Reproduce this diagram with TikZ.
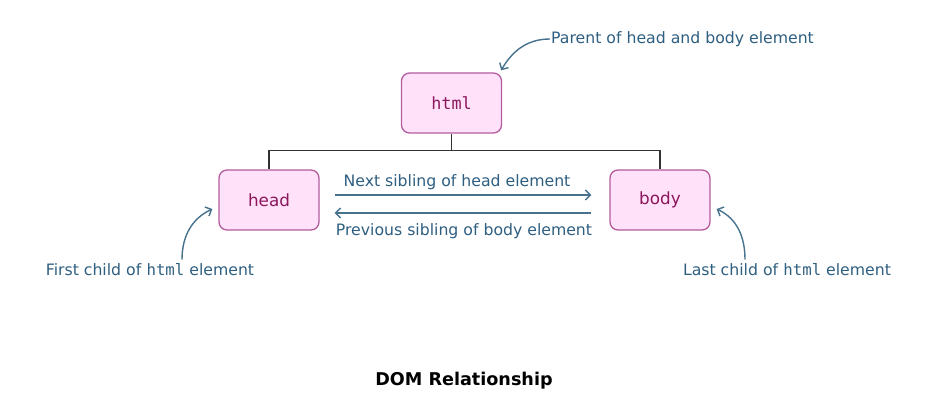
\documentclass[tikz,border=0pt]{standalone}
\usepackage{fontspec}
\setmainfont{DejaVu Sans}
\setmonofont{DejaVu Sans Mono}
\usetikzlibrary{arrows.meta}
\definecolor{boxfill}{RGB}{255,226,250}
\definecolor{boxline}{RGB}{178,92,160}
\definecolor{boxtext}{RGB}{138,22,92}
\definecolor{lbl}{RGB}{46,94,128}
\definecolor{arr}{RGB}{70,114,142}
\definecolor{tree}{RGB}{50,50,50}
\tikzset{
  elbox/.style={draw=boxline, fill=boxfill, line width=1.3pt, rounded corners=8pt,
    minimum width=100pt, minimum height=60pt, inner sep=0pt,
    text=boxtext, font=\fontsize{16.8}{18}\selectfont},
  lbltext/.style={text=lbl, inner sep=0pt, font=\fontsize{15.7}{17}\selectfont},
  pointer/.style={draw=arr, line width=1.4pt, -{Straight Barb[length=5pt,width=10pt]}},
  treeline/.style={draw=tree, line width=1.5pt},
}
\begin{document}
\begin{tikzpicture}[x=1pt,y=-1pt]
\useasboundingbox (0,0) rectangle (926,414);
\node[elbox] (html) at (451.5,103) {\texttt{html}};
\node[elbox] (head) at (269,200) {head};
\node[elbox] (body) at (660,200) {body};
\draw[treeline] (html.south) -- ++(0,17) coordinate (j) -| (head.north);
\draw[treeline] (j) -| (body.north);
\draw[pointer] ([xshift=15pt,yshift=5pt]head.east) -- ([xshift=-18pt,yshift=5pt]body.west);
\draw[pointer] ([xshift=-18pt,yshift=-13pt]body.west) -- ([xshift=15pt,yshift=-13pt]head.east);
\node[lbltext] (next) at (457,182) {Next sibling of head element};
\node[lbltext] (prev) at (464,231) {Previous sibling of body element};
\node[lbltext, anchor=west] (parent) at (551,39) {Parent of head and body element};
\node[lbltext] (first) at (150,270) {First child of \texttt{html} element};
\node[lbltext] (last) at (787,270) {Last child of \texttt{html} element};
\draw[pointer] ([xshift=-1pt]parent.west) to[out=180,in=60] ([xshift=-1pt,yshift=2pt]html.north east);
\draw[pointer] ([xshift=32pt,yshift=4pt]first.north) to[out=90,in=205] ([xshift=-6pt,yshift=-9pt]head.west);
\draw[pointer] ([xshift=-42pt,yshift=4pt]last.north) to[out=90,in=-25] ([xshift=6pt,yshift=-9pt]body.east);
\node[font=\bfseries\fontsize{17.6}{20}\selectfont] (title) at (464,381) {DOM Relationship};
\end{tikzpicture}
\end{document}
